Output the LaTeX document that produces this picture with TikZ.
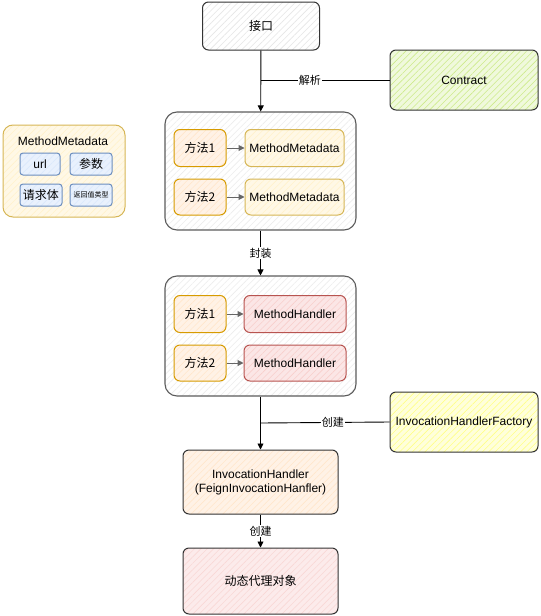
\documentclass[tikz,border=0pt]{standalone}
\usepackage{fontspec}
\setmainfont{Liberation Sans}
\newfontfamily\cjk{Noto Sans CJK SC}
\usetikzlibrary{patterns.meta,arrows.meta}
\definecolor{dk}{HTML}{333333}
\definecolor{orB}{HTML}{D79B00}
\definecolor{orF}{HTML}{FFE6CC}
\definecolor{yeB}{HTML}{D6B656}
\definecolor{yeF}{HTML}{FFF2CC}
\definecolor{reB}{HTML}{B85450}
\definecolor{reF}{HTML}{F8CECC}
\definecolor{grF}{HTML}{CDEB8B}
\definecolor{fyF}{HTML}{FFFF88}
\definecolor{blB}{HTML}{6C8EBF}
\definecolor{blF}{HTML}{DAE8FC}
\definecolor{gyF}{HTML}{E6E6E6}
\tikzset{
  x=1pt,y=-1pt,
  box/.style={draw=#1, line width=1pt, rounded corners=6pt, font=\fontsize{12}{14}\selectfont, align=center, inner sep=0pt},
  hatch/.style 2 args={preaction={fill=#1}, preaction={pattern={Lines[angle=45,distance=4.5pt,line width=0.6pt]}, pattern color=#2}},
  arr/.style={-{Triangle[length=6pt,width=6pt]}, line width=0.9pt, draw=black},
  inarr/.style={-{Triangle[length=6pt,width=6pt]}, line width=1pt, draw=gray!80!black},
  lbl/.style={fill=white, inner sep=1pt, font=\cjk\fontsize{11}{13}\selectfont},
  cjkt/.style={font=\cjk\fontsize{12}{14}\selectfont},
}
\begin{document}
\begin{tikzpicture}
\useasboundingbox (0,0) rectangle (541,616);
% main column
\node[box=dk, minimum width=117pt, minimum height=48pt, hatch={white}{gyF}, cjkt] (jk) at (261,26) {接口};
\node[box=dk, minimum width=148pt, minimum height=60pt, hatch={grF!30}{grF}] (ct) at (464,80) {Contract};
% container 1
\node[box=dk!80, line width=1.1pt, rounded corners=12pt, minimum width=191pt, minimum height=118pt, hatch={white}{gyF!70}] (c1) at (260.5,171) {};
\node[box=orB, minimum width=52pt, minimum height=37pt, hatch={orF!50}{orF}, cjkt] (m1) at (200,148) {方法1};
\node[box=yeB, minimum width=99pt, minimum height=37pt, hatch={yeF!50}{yeF}] (mm1) at (294.5,148) {MethodMetadata};
\node[box=orB, minimum width=52pt, minimum height=36pt, hatch={orF!50}{orF}, cjkt] (m2) at (200,197) {方法2};
\node[box=yeB, minimum width=99pt, minimum height=36pt, hatch={yeF!50}{yeF}] (mm2) at (294.5,197) {MethodMetadata};
% container 2
\node[box=dk!80, line width=1.1pt, rounded corners=12pt, minimum width=191pt, minimum height=120pt, hatch={white}{gyF!70}] (c2) at (260.5,336) {};
\node[box=orB, minimum width=52pt, minimum height=37pt, hatch={orF!50}{orF}, cjkt] (m3) at (200,314) {方法1};
\node[box=reB, minimum width=102pt, minimum height=37pt, hatch={reF!50}{reF}] (mh1) at (295,314) {MethodHandler};
\node[box=orB, minimum width=52pt, minimum height=36pt, hatch={orF!50}{orF}, cjkt] (m4) at (200,363) {方法2};
\node[box=reB, minimum width=102pt, minimum height=36pt, hatch={reF!50}{reF}] (mh2) at (295,363) {MethodHandler};
% factory and lower boxes
\node[box=dk, minimum width=148pt, minimum height=60pt, hatch={fyF!30}{fyF}] (fac) at (464,422) {InvocationHandlerFactory};
\node[box=dk, minimum width=155pt, minimum height=64pt, hatch={orF!50}{orF}] (ih) at (260.5,482) {InvocationHandler\\(FeignInvocationHanfler)};
\node[box=dk, minimum width=155pt, minimum height=66pt, hatch={reF!40}{reF!80}, cjkt] (dp) at (260.5,581) {动态代理对象};
% side box
\node[box=yeB, rounded corners=10pt, minimum width=122pt, minimum height=92pt, hatch={yeF!50}{yeF}] (side) at (64,171) {};
\node[font=\fontsize{12}{14}\selectfont, inner sep=0pt] (st) at (63,141) {MethodMetadata};
\node[box=blB, rounded corners=3pt, minimum width=40pt, minimum height=22pt, hatch={blF!60}{blF}] (u) at (40,164) {url};
\node[box=blB, rounded corners=3pt, minimum width=42pt, minimum height=22pt, hatch={blF!60}{blF}, cjkt] (cs) at (91,164) {参数};
\node[box=blB, rounded corners=3pt, minimum width=42pt, minimum height=22pt, hatch={blF!60}{blF}, cjkt] (qt) at (41,195) {请求体};
\node[box=blB, rounded corners=3pt, minimum width=42pt, minimum height=22pt, hatch={blF!60}{blF}, font=\cjk\fontsize{7}{8}\selectfont] (fh) at (91,195) {返回值类型};
% connectors
\draw[arr] (jk) -- (c1);
\coordinate (j1) at (261,80);
\draw[line width=0.9pt] (j1) -- (ct.west) node[lbl, pos=0.38] {解析};
\draw[inarr] (m1) -- (mm1);
\draw[inarr] (m2) -- (mm2);
\draw[arr] (c1) -- (c2) node[lbl, midway] {封装};
\draw[inarr] (m3) -- (mh1);
\draw[inarr] (m4) -- (mh2);
\draw[arr] (c2) -- (ih);
\coordinate (j2) at (261,423);
\draw[line width=0.9pt] (j2) -- (fac.west) node[lbl, pos=0.56] {创建};
\draw[arr] (ih) -- (dp) node[lbl, midway] {创建};
\end{tikzpicture}
\end{document}
